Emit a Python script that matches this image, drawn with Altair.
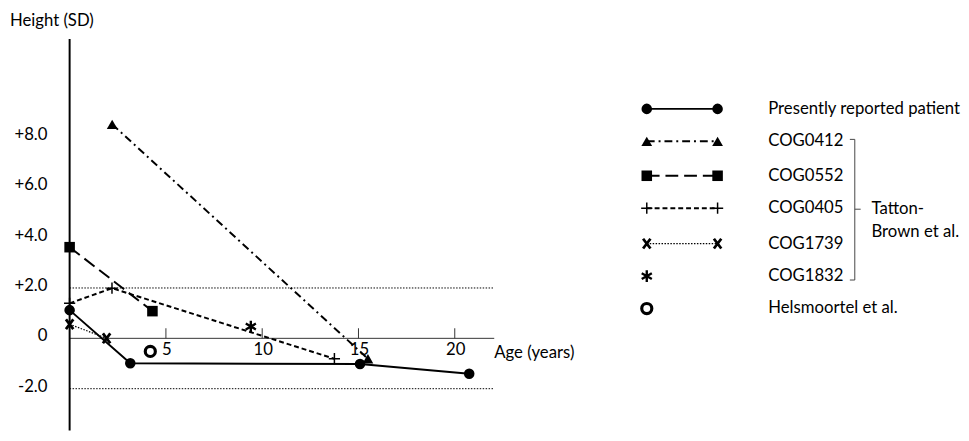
import altair as alt
import pandas as pd

FONT = "Lato"
FS = 17

# ---------------- data ----------------
series_names = ["Presently reported patient", "COG0412", "COG0552", "COG0405",
                "COG1739", "COG1832", "Helsmoortel et al."]

patient_age = [0, 3.15, 15.08, 20.75]
patient_sd = [1.12, -0.99, -1.02, -1.41]
cog0412_age = [2.21, 15.49]
cog0412_sd = [8.5, -0.81]
cog0552_age = [0, 4.3]
cog0552_sd = [3.62, 1.08]
cog0405_age = [0, 2.2, 13.75]
cog0405_sd = [1.39, 1.99, -0.81]
cog1739_age = [0, 1.92]
cog1739_sd = [0.56, 0.0]
cog1832_age = [9.41]
cog1832_sd = [0.47]
helsm_age = [4.19]
helsm_sd = [-0.52]

y_ticks = [8, 6, 4, 2, 0, -2]
y_tick_labels = ["+8.0", "+6.0", "+4.0", "+2.0", "0", "-2.0"]
x_ticks = [5, 10, 15, 20]
x_tick_labels = ["5", "10", "15", "20"]
ref_lines = [2, -2]

series_ages = [patient_age, cog0412_age, cog0552_age, cog0405_age,
               cog1739_age, cog1832_age, helsm_age]
series_sds = [patient_sd, cog0412_sd, cog0552_sd, cog0405_sd,
              cog1739_sd, cog1832_sd, helsm_sd]

# ---------------- styles ----------------
PLUS = "M-1,0L1,0M0,-1L0,1"
CROSS = "M-0.75,-1L0.75,1M-0.75,1L0.75,-1"
ASTER = "M0,-1L0,1M-0.87,-0.5L0.87,0.5M-0.87,0.5L0.87,-0.5"

styles = [
    dict(line=True, dash=None, sw=2, shape="circle", size=115, filled=True, msw=0),
    dict(line=True, dash=[8, 4, 2, 4], sw=2, shape="triangle-up", size=120, filled=True, msw=0),
    dict(line=True, dash=[13, 6], sw=2, shape="square", size=115, filled=True, msw=0),
    dict(line=True, dash=[5, 3], sw=2, shape=PLUS, size=130, filled=False, msw=1.5),
    dict(line=True, dash=[1.5, 1.5], sw=1.2, shape=CROSS, size=100, filled=False, msw=2.8),
    dict(line=False, dash=None, sw=0, shape=ASTER, size=140, filled=False, msw=2.4),
    dict(line=False, dash=None, sw=0, shape="circle", size=105, filled=False, msw=3.2),
]

# ---------------- main panel ----------------
W1, H = 560, 425
XS = alt.Scale(domain=[-3.2, 25.4], nice=False, zero=False)
YS = alt.Scale(domain=[-3.66, 12.94], nice=False, zero=False)


def X(f="age"):
    return alt.X(f"{f}:Q", scale=XS, axis=None)


def Y(f="sd"):
    return alt.Y(f"{f}:Q", scale=YS, axis=None)


layers = []

# reference dotted lines at +/-2 SD
ref_df = pd.DataFrame({"sd": ref_lines, "a0": [0] * len(ref_lines), "a1": [22.05] * len(ref_lines)})
layers.append(alt.Chart(ref_df).mark_rule(color="black", strokeWidth=1, strokeDash=[1.5, 1.5]).encode(
    x=X("a0"), x2="a1", y=Y()))

# x axis line
xaxis_df = pd.DataFrame({"a0": [0], "a1": [22.05], "sd": [0]})
layers.append(alt.Chart(xaxis_df).mark_rule(color="#333333", strokeWidth=1).encode(
    x=X("a0"), x2="a1", y=Y()))

# x ticks (upward) and labels
xt_df = pd.DataFrame({"age": x_ticks, "label": x_tick_labels,
                      "s0": [0] * len(x_ticks), "s1": [0.4] * len(x_ticks)})
layers.append(alt.Chart(xt_df).mark_rule(color="#333333", strokeWidth=1).encode(
    x=X(), y=Y("s0"), y2="s1"))
layers.append(alt.Chart(xt_df).mark_text(font=FONT, fontSize=FS, align="center", baseline="middle",
                                         dy=12, dx=1, color="black").encode(
    x=X(), y=Y("s0"), text="label:N"))

# y axis line
yaxis_df = pd.DataFrame({"age": [0], "s0": [-3.66], "s1": [11.89]})
layers.append(alt.Chart(yaxis_df).mark_rule(color="black", strokeWidth=2).encode(
    x=X(), y=Y("s0"), y2="s1"))

# y labels
yt_df = pd.DataFrame({"sd": y_ticks, "label": y_tick_labels, "age": [-1.15] * len(y_ticks)})
layers.append(alt.Chart(yt_df).mark_text(font=FONT, fontSize=FS, align="right", baseline="middle",
                                         dy=-2, color="black").encode(
    x=X(), y=Y(), text="label:N"))

# titles
title_df = pd.DataFrame({"age": [-3.1], "sd": [12.59], "label": ["Height (SD)"]})
layers.append(alt.Chart(title_df).mark_text(font=FONT, fontSize=FS, align="left", baseline="middle",
                                            color="black").encode(x=X(), y=Y(), text="label:N"))
age_df = pd.DataFrame({"age": [22.05], "sd": [-0.6], "label": ["Age (years)"]})
layers.append(alt.Chart(age_df).mark_text(font=FONT, fontSize=FS, align="left", baseline="middle",
                                          color="black").encode(x=X(), y=Y(), text="label:N"))

# series
for name, ages, sds, st in zip(series_names, series_ages, series_sds, styles):
    df = pd.DataFrame({"age": ages, "sd": sds, "series": name})
    if st["line"] and len(ages) > 1:
        kw = dict(color="black", strokeWidth=st["sw"])
        if st["dash"]:
            kw["strokeDash"] = st["dash"]
        layers.append(alt.Chart(df).mark_line(**kw).encode(x=X(), y=Y()))
    pkw = dict(shape=st["shape"], size=st["size"], filled=st["filled"], color="black", opacity=1)
    if not st["filled"]:
        pkw["strokeWidth"] = st["msw"]
    layers.append(alt.Chart(df).mark_point(**pkw).encode(x=X(), y=Y()))

main = alt.layer(*layers).properties(width=W1, height=H)

# ---------------- legend panel ----------------
W2 = 953 - W1
LXS = alt.Scale(domain=[W1 + 8, W1 + 8 + W2], nice=False, zero=False)
LYS = alt.Scale(domain=[8, 8 + H], reverse=True, nice=False, zero=False)


def LX(f):
    return alt.X(f"{f}:Q", scale=LXS, axis=None)


def LY(f):
    return alt.Y(f"{f}:Q", scale=LYS, axis=None)


row_y = [106, 139, 174, 207, 243, 276, 309]
sym_x0, sym_x1, text_x = 641.5, 713.5, 765

leg_layers = []
for name, ry, st in zip(series_names, row_y, styles):
    df = pd.DataFrame({"x0": [sym_x0], "x1": [sym_x1], "xt": [text_x], "y": [ry], "label": [name]})
    if st["line"]:
        kw = dict(color="black", strokeWidth=st["sw"])
        if st["dash"]:
            kw["strokeDash"] = st["dash"]
        leg_layers.append(alt.Chart(df).mark_rule(**kw).encode(x=LX("x0"), x2="x1", y=LY("y")))
    pkw = dict(shape=st["shape"], size=st["size"], filled=st["filled"], color="black", opacity=1)
    if not st["filled"]:
        pkw["strokeWidth"] = st["msw"]
    leg_layers.append(alt.Chart(df).mark_point(**pkw).encode(x=LX("x0"), y=LY("y")))
    if st["line"]:
        leg_layers.append(alt.Chart(df).mark_point(**pkw).encode(x=LX("x1"), y=LY("y")))
    leg_layers.append(alt.Chart(df).mark_text(font=FONT, fontSize=FS, align="left", baseline="middle",
                                              color="black").encode(x=LX("xt"), y=LY("y"), text="label:N"))

# bracket
br_x, br_l, br_r = 853, 848, 859
br_df = pd.DataFrame({
    "x0": [br_x, br_l, br_l, br_x],
    "x1": [br_x, br_x, br_x, br_r],
    "y0": [137, 137, 280, 208],
    "y1": [280, 137, 280, 208],
})
leg_layers.append(alt.Chart(br_df).mark_rule(color="#444444", strokeWidth=1).encode(
    x=LX("x0"), x2="x1", y=LY("y0"), y2="y1"))
tb_df = pd.DataFrame({"x": [870, 870], "y": [208, 231], "label": ["Tatton-", "Brown et al."]})
leg_layers.append(alt.Chart(tb_df).mark_text(font=FONT, fontSize=FS, align="left", baseline="middle",
                                             color="black").encode(x=LX("x"), y=LY("y"), text="label:N"))

legend = alt.layer(*leg_layers).properties(width=W2, height=H)

chart = alt.hconcat(main, legend, spacing=0).properties(padding=0).configure_view(stroke=None)

chart.save("out.html", embed_options={"renderer": "svg", "actions": False})
